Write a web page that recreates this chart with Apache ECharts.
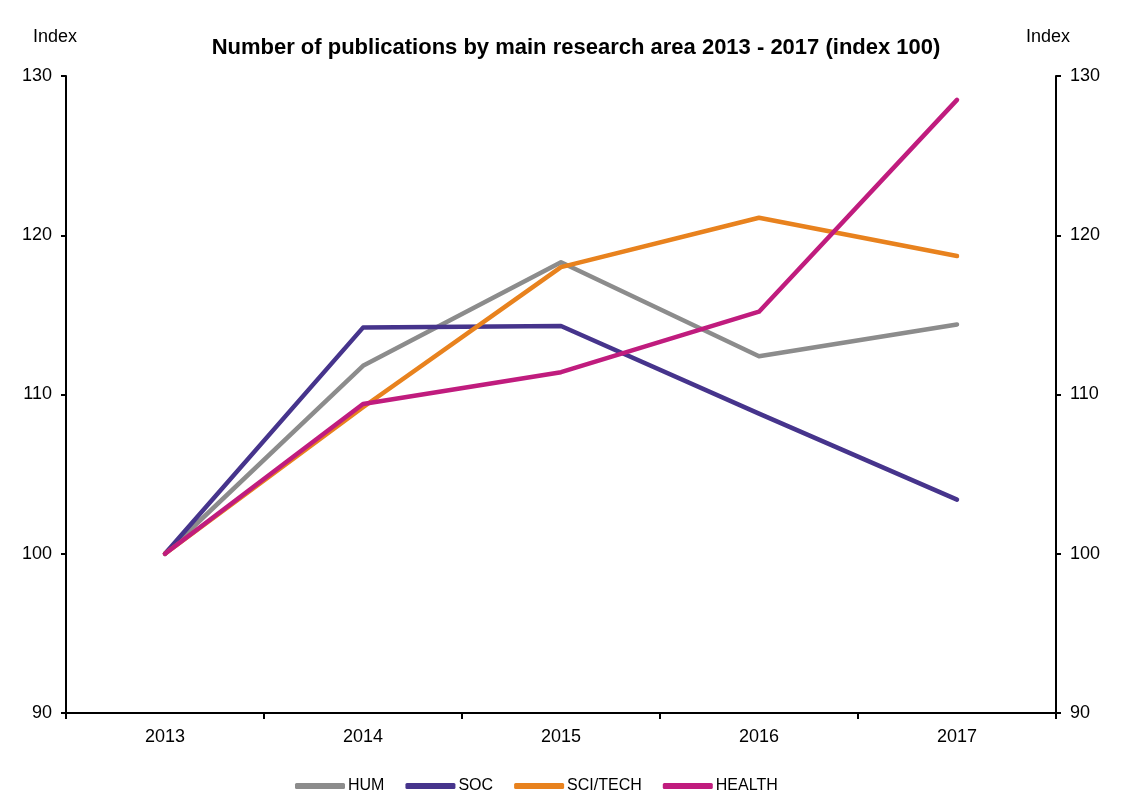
<!DOCTYPE html>
<html>
<head>
<meta charset="utf-8">
<script src="https://cdn.jsdelivr.net/npm/echarts@6/dist/echarts.min.js"></script>
<style>
  html, body { margin: 0; padding: 0; background: #fff; }
  #chart { width: 1127px; height: 796px; }
</style>
</head>
<body>
<div id="chart"></div>
<script>
const years = ['2013', '2014', '2015', '2016', '2017'];
const hum = [100, 111.8, 118.3, 112.4, 114.4];
const soc = [100, 114.2, 114.3, 108.8, 103.4];
const sciTech = [100, 109.2, 118.0, 121.1, 118.7];
const health = [100, 109.4, 111.4, 115.2, 128.5];

const font = 'Liberation Sans, Arial, sans-serif';

const chart = echarts.init(document.getElementById('chart'));

function line(name, data, color) {
  return {
    name: name,
    type: 'line',
    data: data,
    symbol: 'none',
    smooth: false,
    lineStyle: { color: color, width: 4.5, cap: 'round', join: 'round' },
    itemStyle: { color: color },
    emphasis: { disabled: true }
  };
}

function valueAxis(position, padding) {
  return {
    type: 'value',
    position: position,
    min: 90,
    max: 130,
    interval: 10,
    name: 'Index',
    nameLocation: 'end',
    nameGap: 30,
    nameTextStyle: { color: '#000', fontSize: 18, fontFamily: font, padding: padding },
    axisLine: { show: true, lineStyle: { color: '#000', width: 2 } },
    axisTick: { show: true, length: 5, lineStyle: { color: '#000', width: 2 } },
    axisLabel: { color: '#000', fontSize: 18, fontFamily: font, margin: 14 },
    splitLine: { show: false }
  };
}

chart.setOption({
  animation: false,
  title: {
    text: 'Number of publications by main research area 2013 - 2017 (index 100)',
    left: 571,
    textAlign: 'center',
    top: 32,
    textStyle: { color: '#000', fontSize: 22, fontWeight: 'bold', fontFamily: font }
  },
  legend: {
    bottom: -3,
    left: 290,
    itemWidth: 50,
    itemHeight: 6,
    itemGap: 21,
    icon: 'roundRect',
    textStyle: { color: '#000', fontSize: 16, fontFamily: font, padding: [0, 0, 0, -2] },
    data: ['HUM', 'SOC', 'SCI/TECH', 'HEALTH']
  },
  grid: { left: 66, right: 71, top: 76, bottom: 83 },
  xAxis: {
    type: 'category',
    data: years,
    boundaryGap: true,
    axisLine: { lineStyle: { color: '#000', width: 2 } },
    axisTick: { show: true, length: 6, inside: false, lineStyle: { color: '#000', width: 2 } },
    axisLabel: { color: '#000', fontSize: 18, fontFamily: font, margin: 15 }
  },
  yAxis: [
    valueAxis('left', [0, 22, 0, 0]),
    valueAxis('right', [0, 16, 0, 0])
  ],
  series: [
    line('HUM', hum, '#8c8c8c'),
    line('SOC', soc, '#46348c'),
    line('SCI/TECH', sciTech, '#e8821e'),
    line('HEALTH', health, '#c01c7e')
  ]
});
</script>
</body>
</html>
